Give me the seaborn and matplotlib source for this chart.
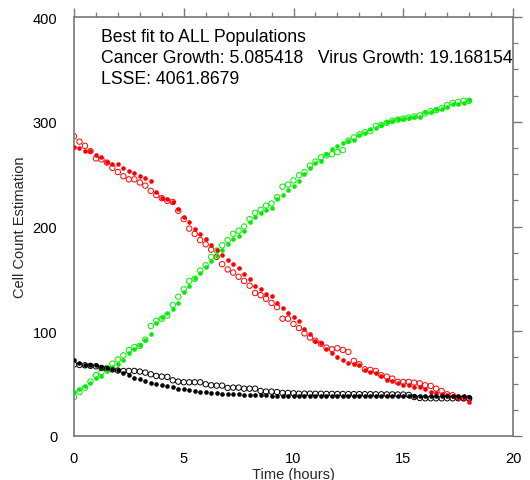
import numpy as np
import pandas as pd
import matplotlib
matplotlib.use("Agg")
import matplotlib.pyplot as plt
import seaborn as sns
from matplotlib.ticker import MultipleLocator

# ----------------------------------------------------------
# data, one sample every 15 minutes
# ----------------------------------------------------------
time_h = np.arange(0, 18.01, 0.25)

cancer_fit = [
    276, 274.5, 272, 272, 268, 266, 262, 260, 259.5, 256, 253, 251, 248, 246, 243, 233, 227, 226, 223, 217,
    208.7, 204, 197.6, 192.8, 188.1, 182.3, 177.9, 172.9, 168.4, 164.2, 160.1, 154.7, 149.5, 142.8, 140.3, 135.5, 133.9, 126.9, 121.8, 117.4,
    114, 110, 102, 97, 91, 89, 83, 79, 75.5, 72.5, 70, 68.5, 67.5, 63, 61, 60, 57, 53.5, 52.5, 50.3,
    49, 48.4, 47, 47, 44.6, 42, 41.4, 40, 39, 38, 36, 36, 32,
]
cancer_obs = [
    286, 281, 277, 272, 265, 264, 261, 256, 252, 248, 245, 245, 242, 239, 234, 230, 227, 224.5, 223.5, 215,
    207, 198, 193, 187, 183, 178, 171, 164, 159, 156, 152, 148, 143.5, 136.5, 134.5, 131, 127, 123, 112, 112,
    107, 103, 98, 94, 91, 88, 84.4, 82.8, 83.8, 82.2, 80.3, 71.7, 68.5, 63.7, 63.1, 62.1, 58, 56.7, 54.8, 51.6,
    51.6, 51.6, 51, 50.3, 48.4, 47.8, 45.2, 43, 39.8, 38.9, 36.6, 36, 35.7,
]
virus_fit = [
    42, 45, 48, 51, 55, 57, 62, 66, 69, 73, 79, 83, 87, 92, 97, 108, 114, 117, 121, 127,
    137, 143, 151, 156, 161, 167, 172, 178, 183, 188, 191, 196, 204, 209, 213, 216, 218, 226, 230, 235,
    239, 243, 250, 256, 261, 263, 269, 274, 277, 280, 282, 283, 287, 289, 293, 294, 297, 300, 301, 303,
    303, 304, 305, 305, 309, 309, 312, 312, 314, 317, 317, 318, 321,
]
virus_obs = [
    37, 42, 46, 52, 58, 61, 65, 69, 73, 77, 82, 85, 86, 92, 105, 110, 112, 115, 125, 133,
    140, 148, 150, 158, 163, 171, 177, 182, 187, 193, 196, 200, 207, 213, 216, 220, 222, 228, 238, 240,
    244, 249, 252, 258, 262, 266, 268, 269, 271, 273, 282, 285, 288, 290, 291, 296, 297, 299, 301, 302,
    303, 304, 305, 306, 308, 310, 311, 313, 316, 318, 319, 320, 320,
]
healthy_fit = [
    72.3, 70, 68.2, 68.2, 68.2, 66.2, 64.6, 64.3, 62.7, 60.5, 57.9, 55.7, 54.1, 52.9, 51, 49.7, 48.4, 47.5, 46.5, 45.2,
    44.6, 43.6, 43, 42.4, 41.7, 41.1, 40.8, 40.4, 40.1, 39.8, 39.8, 39.5, 39.2, 39.2, 38.9, 38.7, 38.5, 38.5, 38.4, 38.4,
    38.3, 38.3, 38.2, 38.2, 38.2, 38.2, 38.1, 38.1, 38.1, 38.1, 38.0, 38.0, 38.0, 38.0, 38.0, 38.0, 38.0, 38.0, 38.0, 38.0,
    38.0, 38.2, 38.4, 38.4, 38.5, 38.5, 38.5, 38.4, 38.3, 38.2, 38.0, 37.8, 37.6,
]
healthy_obs = [
    68.2, 67.8, 67.5, 67, 66.5, 65, 64, 63.5, 62.5, 62.1, 62.1, 62.1, 61.5, 60.5, 58.9, 57.3, 56.7, 56.4, 53.2, 51.9,
    51.3, 51.3, 51.3, 51.3, 49.4, 48.4, 48.1, 48.1, 45.9, 46.2, 46.2, 45.2, 45.2, 45.2, 43, 42.4, 42.4, 42, 41.1, 41.1,
    40.8, 40.4, 40.4, 40.4, 40.3, 40.3, 40.2, 40.2, 40.1, 40.1, 40.0, 40.0, 40.0, 39.9, 39.9, 39.8, 39.8, 39.7, 39.7, 39.6,
    39.6, 39.2, 37.2, 36.3, 36, 36, 36, 36, 36, 36, 36, 36, 36,
]

info_lines = [
    "Best fit to ALL Populations",
    "Cancer Growth: 5.085418   Virus Growth: 19.168154",
    "LSSE: 4061.8679",
]

# ----------------------------------------------------------
# style
# ----------------------------------------------------------
sns.set_theme(style="white")
plt.rcParams["font.family"] = ["Liberation Sans", "DejaVu Sans"]

AXIS_GREY = "#777777"

fig = plt.figure(figsize=(5.30, 4.81), dpi=100)
ax = fig.add_axes([74 / 530, 1 - 437 / 481, 439 / 530, 419 / 481])

series = [
    (cancer_obs, cancer_fit, "#ff0000"),
    (virus_obs, virus_fit, "#00ee00"),
    (healthy_obs, healthy_fit, "#000000"),
]

for obs, fit, col in series:
    sns.scatterplot(x=time_h, y=obs, ax=ax, marker="o", s=15,
                    facecolor="none", edgecolor=col, linewidth=0.7, zorder=2)
    sns.scatterplot(x=time_h, y=fit, ax=ax, marker="o", s=11,
                    color=col, edgecolor=col, linewidth=0, zorder=3)

ax.set_xlim(0, 20)
ax.set_ylim(0, 400)
ax.xaxis.set_major_locator(MultipleLocator(5))
ax.xaxis.set_minor_locator(MultipleLocator(1))
ax.yaxis.set_major_locator(MultipleLocator(100))
ax.yaxis.set_minor_locator(MultipleLocator(25))

# tick lengths are in points (1 px = 0.72 pt at 100 dpi)
ax.tick_params(which="both", direction="out", top=True, right=True,
               color=AXIS_GREY, labelsize=10.5, labelcolor="black")
ax.tick_params(which="major", length=6.5, width=1.0)
ax.tick_params(which="minor", length=3.3, width=0.9)
ax.tick_params(axis="x", which="major", pad=4.5)
ax.tick_params(axis="y", which="major", pad=5.5)
for sp in ax.spines.values():
    sp.set_color(AXIS_GREY)
    sp.set_linewidth(1.2)

ax.set_xlabel("Time (hours)", fontsize=10.5, labelpad=1)
ax.set_ylabel("Cell Count Estimation", fontsize=10.5, labelpad=4)

for frac, txt in zip([0.9435, 0.8933, 0.8435], info_lines):
    ax.text(27 / 439, frac, txt, transform=ax.transAxes, fontsize=12.7,
            va="baseline", ha="left", color="black")

fig.savefig("out.png", dpi=100)
